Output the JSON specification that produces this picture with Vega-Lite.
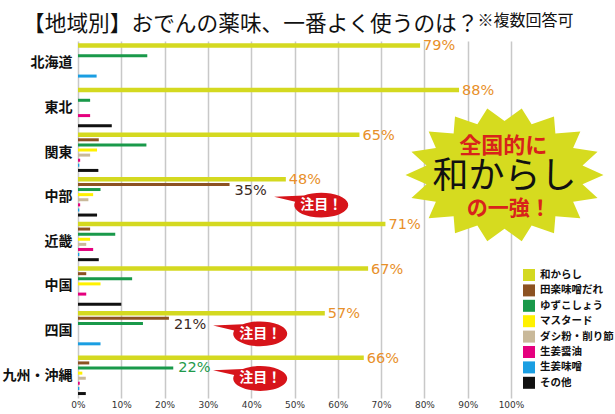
{
  "$schema": "https://vega.github.io/schema/vega-lite/v6.json",
  "autosize": {"type": "none"},
  "width": 433,
  "height": 357,
  "padding": {"left": 78, "top": 41, "right": 104, "bottom": 16},
  "background": "white",
  "config": {
    "view": {"stroke": null},
    "font": "Noto Sans CJK JP",
    "axisX": {
      "values": [0, 0.1, 0.2, 0.3, 0.4, 0.5, 0.6, 0.7, 0.8, 0.9, 1],
      "format": ".0%",
      "grid": true,
      "gridColor": "#c8c8c8",
      "gridWidth": 1.5,
      "domain": false,
      "ticks": false,
      "labelFlush": false,
      "labelFont": "DejaVu Sans",
      "labelFontSize": 9,
      "labelColor": "#333333",
      "labelPadding": 2
    }
  },
  "title": {
    "text": "【地域別】おでんの薬味、一番よく使うのは？",
    "anchor": "start",
    "frame": "group",
    "dx": -55,
    "offset": -23.5,
    "fontSize": 21.7,
    "fontWeight": "normal",
    "font": "Noto Sans CJK JP",
    "color": "#111111"
  },
  "datasets": {
    "bars": [
      {"region": "北海道", "cat": "和からし", "v": 0.79},
      {"region": "北海道", "cat": "田楽味噌だれ", "v": 0},
      {"region": "北海道", "cat": "ゆずこしょう", "v": 0.16},
      {"region": "北海道", "cat": "マスタード", "v": 0},
      {"region": "北海道", "cat": "ダシ粉・削り節", "v": 0},
      {"region": "北海道", "cat": "生姜醤油", "v": 0},
      {"region": "北海道", "cat": "生姜味噌", "v": 0.043},
      {"region": "北海道", "cat": "その他", "v": 0},
      {"region": "東北", "cat": "和からし", "v": 0.88},
      {"region": "東北", "cat": "田楽味噌だれ", "v": 0},
      {"region": "東北", "cat": "ゆずこしょう", "v": 0.028},
      {"region": "東北", "cat": "マスタード", "v": 0},
      {"region": "東北", "cat": "ダシ粉・削り節", "v": 0},
      {"region": "東北", "cat": "生姜醤油", "v": 0.028},
      {"region": "東北", "cat": "生姜味噌", "v": 0},
      {"region": "東北", "cat": "その他", "v": 0.078},
      {"region": "関東", "cat": "和からし", "v": 0.65},
      {"region": "関東", "cat": "田楽味噌だれ", "v": 0.048},
      {"region": "関東", "cat": "ゆずこしょう", "v": 0.158},
      {"region": "関東", "cat": "マスタード", "v": 0.044},
      {"region": "関東", "cat": "ダシ粉・削り節", "v": 0.028},
      {"region": "関東", "cat": "生姜醤油", "v": 0.005},
      {"region": "関東", "cat": "生姜味噌", "v": 0.003},
      {"region": "関東", "cat": "その他", "v": 0.047},
      {"region": "中部", "cat": "和からし", "v": 0.48},
      {"region": "中部", "cat": "田楽味噌だれ", "v": 0.35},
      {"region": "中部", "cat": "ゆずこしょう", "v": 0.052},
      {"region": "中部", "cat": "マスタード", "v": 0.035},
      {"region": "中部", "cat": "ダシ粉・削り節", "v": 0.024},
      {"region": "中部", "cat": "生姜醤油", "v": 0.005},
      {"region": "中部", "cat": "生姜味噌", "v": 0.003},
      {"region": "中部", "cat": "その他", "v": 0.044},
      {"region": "近畿", "cat": "和からし", "v": 0.71},
      {"region": "近畿", "cat": "田楽味噌だれ", "v": 0.028},
      {"region": "近畿", "cat": "ゆずこしょう", "v": 0.086},
      {"region": "近畿", "cat": "マスタード", "v": 0.028},
      {"region": "近畿", "cat": "ダシ粉・削り節", "v": 0.019},
      {"region": "近畿", "cat": "生姜醤油", "v": 0.035},
      {"region": "近畿", "cat": "生姜味噌", "v": 0.003},
      {"region": "近畿", "cat": "その他", "v": 0.048},
      {"region": "中国", "cat": "和からし", "v": 0.67},
      {"region": "中国", "cat": "田楽味噌だれ", "v": 0.019},
      {"region": "中国", "cat": "ゆずこしょう", "v": 0.125},
      {"region": "中国", "cat": "マスタード", "v": 0.052},
      {"region": "中国", "cat": "ダシ粉・削り節", "v": 0},
      {"region": "中国", "cat": "生姜醤油", "v": 0.019},
      {"region": "中国", "cat": "生姜味噌", "v": 0},
      {"region": "中国", "cat": "その他", "v": 0.1},
      {"region": "四国", "cat": "和からし", "v": 0.57},
      {"region": "四国", "cat": "田楽味噌だれ", "v": 0.21},
      {"region": "四国", "cat": "ゆずこしょう", "v": 0.15},
      {"region": "四国", "cat": "マスタード", "v": 0},
      {"region": "四国", "cat": "ダシ粉・削り節", "v": 0},
      {"region": "四国", "cat": "生姜醤油", "v": 0},
      {"region": "四国", "cat": "生姜味噌", "v": 0.052},
      {"region": "四国", "cat": "その他", "v": 0},
      {"region": "九州・沖縄", "cat": "和からし", "v": 0.66},
      {"region": "九州・沖縄", "cat": "田楽味噌だれ", "v": 0.026},
      {"region": "九州・沖縄", "cat": "ゆずこしょう", "v": 0.22},
      {"region": "九州・沖縄", "cat": "マスタード", "v": 0.01},
      {"region": "九州・沖縄", "cat": "ダシ粉・削り節", "v": 0.018},
      {"region": "九州・沖縄", "cat": "生姜醤油", "v": 0.004},
      {"region": "九州・沖縄", "cat": "生姜味噌", "v": 0.003},
      {"region": "九州・沖縄", "cat": "その他", "v": 0.018}
    ],
    "notes": [
      {"region": "中部", "cat": "生姜醤油", "v": 0.562, "label": "注目！"},
      {"region": "四国", "cat": "ダシ粉・削り節", "v": 0.421, "label": "注目！"},
      {"region": "九州・沖縄", "cat": "ダシ粉・削り節", "v": 0.421, "label": "注目！"}
    ],
    "burst": [
      {"region": "関東", "cat": "その他", "v": 0.985, "label": "和からし"},
      {"region": "関東", "cat": "ゆずこしょう", "v": 0.982, "label": "全国的に"},
      {"region": "中部", "cat": "生姜味噌", "v": 0.995, "label": "の一強！"}
    ]
  },
  "encoding": {
    "y": {
      "field": "region",
      "type": "nominal",
      "scale": {
        "domain": ["北海道", "東北", "関東", "中部", "近畿", "中国", "四国", "九州・沖縄"],
        "paddingInner": 0,
        "paddingOuter": 0
      },
      "axis": {
        "title": "※複数回答可",
        "titleAngle": 0,
        "titleX": 399,
        "titleY": -20.5,
        "titleAlign": "left",
        "titleBaseline": "middle",
        "titleFontSize": 16,
        "titleFontWeight": "normal",
        "titleFont": "Noto Sans CJK JP",
        "titleColor": "#111111",
        "labelFontSize": 14,
        "labelFontWeight": "bold",
        "labelColor": "#111111",
        "labelPadding": 6,
        "ticks": false,
        "domain": false,
        "grid": false
      }
    },
    "yOffset": {
      "field": "cat",
      "type": "nominal",
      "scale": {
        "domain": ["和からし", "田楽味噌だれ", "ゆずこしょう", "マスタード", "ダシ粉・削り節", "生姜醤油", "生姜味噌", "その他"],
        "paddingInner": 0,
        "paddingOuter": 0.373
      }
    },
    "x": {
      "field": "v",
      "type": "quantitative",
      "scale": {"domain": [0, 1]},
      "title": null
    }
  },
  "layer": [
    {
      "data": {"name": "bars"},
      "transform": [{"filter": "datum.cat !== '和からし'"}],
      "mark": {"type": "bar", "height": 3},
      "encoding": {
        "color": {
          "field": "cat",
          "type": "nominal",
          "scale": {
            "domain": ["和からし", "田楽味噌だれ", "ゆずこしょう", "マスタード", "ダシ粉・削り節", "生姜醤油", "生姜味噌", "その他"],
            "range": ["#d4d920", "#8c5222", "#19994a", "#fff100", "#c9b99a", "#e5007e", "#1a9ee2", "#111111"]
          },
          "legend": {
            "title": null,
            "orient": "none",
            "legendX": 445,
            "legendY": 228,
            "padding": 0,
            "symbolType": "square",
            "symbolSize": 144,
            "symbolStrokeWidth": 0,
            "symbolOpacity": 1,
            "labelFont": "Noto Sans CJK JP",
            "labelFontSize": 10.5,
            "labelFontWeight": "bold",
            "labelColor": "#111111",
            "labelOffset": 5,
            "rowPadding": 3.4
          }
        }
      }
    },
    {
      "data": {"name": "bars"},
      "transform": [{"filter": "datum.cat === '和からし'"}],
      "mark": {"type": "bar", "height": 4.5},
      "encoding": {"color": {"field": "cat", "type": "nominal"}}
    },
    {
      "data": {"name": "bars"},
      "transform": [{"filter": "datum.cat === '和からし'"}],
      "mark": {"type": "text", "align": "left", "baseline": "middle", "dx": 3, "dy": 1, "font": "DejaVu Sans", "fontSize": 14.5, "color": "#e8902a"},
      "encoding": {"text": {"field": "v", "type": "quantitative", "format": ".0%"}}
    },
    {
      "data": {"name": "bars"},
      "transform": [{"filter": "datum.cat === '田楽味噌だれ' && datum.v > 0.15"}],
      "mark": {"type": "text", "align": "left", "baseline": "middle", "dx": 5, "dy": 7, "font": "DejaVu Sans", "fontSize": 14.5, "color": "#3b2a1e"},
      "encoding": {"text": {"field": "v", "type": "quantitative", "format": ".0%"}}
    },
    {
      "data": {"name": "bars"},
      "transform": [{"filter": "datum.cat === 'ゆずこしょう' && datum.v > 0.2"}],
      "mark": {"type": "text", "align": "left", "baseline": "middle", "dx": 5, "dy": 0, "font": "DejaVu Sans", "fontSize": 14.5, "color": "#1f9a4b"},
      "encoding": {"text": {"field": "v", "type": "quantitative", "format": ".0%"}}
    },
    {
      "data": {"name": "notes"},
      "mark": {
        "type": "point",
        "shape": "M -0.966 -0.116 L -1.75 -0.3 L -0.643 -0.345 A 1 0.46 0 1 1 -0.966 -0.116 Z",
        "size": 2916,
        "filled": true,
        "color": "#d7141a",
        "opacity": 1,
        "strokeWidth": 0
      }
    },
    {
      "data": {"name": "notes"},
      "mark": {"type": "text", "align": "center", "baseline": "middle", "font": "Noto Sans CJK JP", "fontSize": 14, "fontWeight": "bold", "color": "white"},
      "encoding": {"text": {"field": "label", "type": "nominal"}}
    },
    {
      "data": {"name": "burst"},
      "transform": [{"filter": "datum.label === '和からし'"}],
      "mark": {
        "type": "point",
        "shape": "M 1 0.045 L 0.788 0.14 L 0.94 0.278 L 0.693 0.317 L 0.766 0.482 L 0.514 0.462 L 0.5 0.634 L 0.274 0.556 L 0.174 0.715 L 0 0.589 L -0.174 0.715 L -0.274 0.556 L -0.5 0.634 L -0.514 0.462 L -0.766 0.482 L -0.693 0.317 L -0.94 0.278 L -0.788 0.14 L -1 0.045 L -0.788 -0.05 L -0.94 -0.188 L -0.693 -0.227 L -0.766 -0.392 L -0.514 -0.372 L -0.5 -0.544 L -0.274 -0.466 L -0.174 -0.625 L 0 -0.499 L 0.174 -0.625 L 0.274 -0.466 L 0.5 -0.544 L 0.514 -0.372 L 0.766 -0.392 L 0.693 -0.227 L 0.94 -0.188 L 0.788 -0.05 Z",
        "size": 39204,
        "filled": true,
        "color": "#d6db1f",
        "opacity": 1,
        "strokeWidth": 0
      }
    },
    {
      "data": {"name": "burst"},
      "transform": [{"filter": "datum.label === '全国的に'"}],
      "mark": {"type": "text", "align": "center", "baseline": "middle", "dy": 1, "font": "Noto Sans CJK JP", "fontSize": 22, "fontWeight": "bold", "color": "#d8231b"},
      "encoding": {"text": {"field": "label", "type": "nominal"}}
    },
    {
      "data": {"name": "burst"},
      "transform": [{"filter": "datum.label === '和からし'"}],
      "mark": {"type": "text", "align": "center", "baseline": "middle", "dy": 6.5, "font": "Noto Sans CJK JP", "fontSize": 36, "fontWeight": "normal", "color": "#111111"},
      "encoding": {"text": {"field": "label", "type": "nominal"}}
    },
    {
      "data": {"name": "burst"},
      "transform": [{"filter": "datum.label === 'の一強！'"}],
      "mark": {"type": "text", "align": "center", "baseline": "middle", "dy": -1, "font": "Noto Sans CJK JP", "fontSize": 21, "fontWeight": "bold", "color": "#d8231b"},
      "encoding": {"text": {"field": "label", "type": "nominal"}}
    }
  ]
}
